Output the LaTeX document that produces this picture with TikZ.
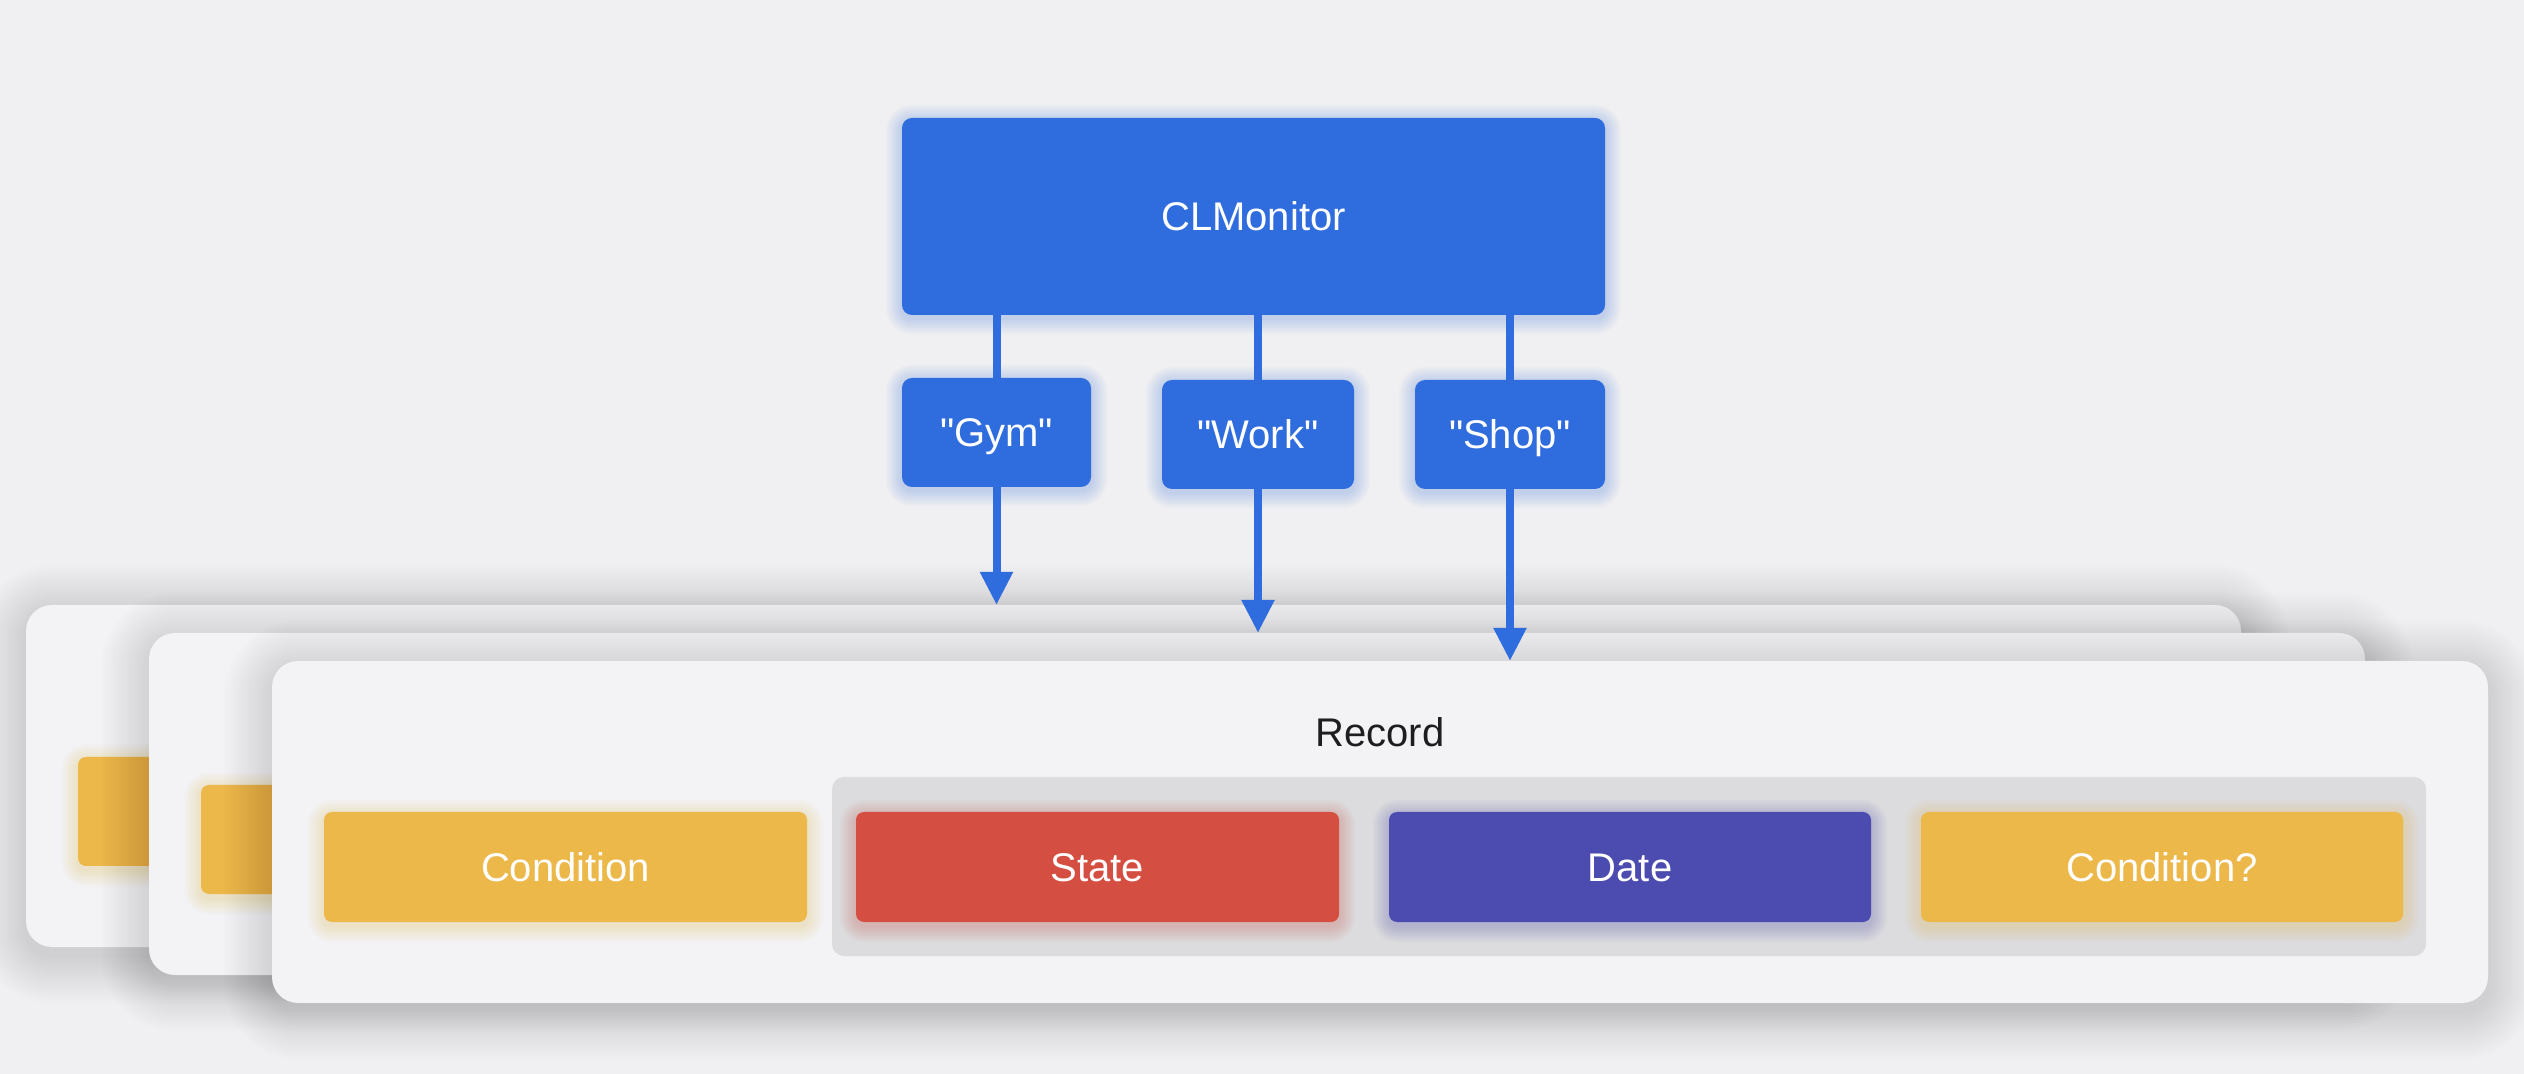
\documentclass[tikz,border=0pt]{standalone}
\usepackage{fontspec}
\defaultfontfeatures[\rmfamily,\sffamily]{}
\setmainfont{Liberation Sans}
\usetikzlibrary{arrows.meta}
\definecolor{bg}{HTML}{F0F0F2}
\definecolor{cardc}{HTML}{F3F3F5}
\definecolor{grpc}{HTML}{DCDCDE}
\definecolor{blu}{HTML}{2F6CDE}
\definecolor{yel}{HTML}{ECB84A}
\definecolor{redc}{HTML}{D44E41}
\definecolor{ind}{HTML}{4B4BB0}
\definecolor{txtd}{HTML}{1E1E20}
\def\glowr{5}
% glow: x1 y1 x2 y2 colour steps step(px) opacity dy(px)
\newcommand\glow[9]{%
  \foreach \k in {1,...,#6}{%
    \pgfmathsetmacro\rr{\glowr+\k*#7*0.5}%
    \fill[#5,opacity=#8,rounded corners=\rr pt] ({#1-\k*#7},{#2-\k*#7+#9}) rectangle ({#3+\k*#7},{#4+\k*#7+#9});
  }}
% box: name x1 y1 x2 y2 style text
\newcommand\bx[7]{%
  \pgfmathsetmacro\bxw{(#4-#2)*0.5}%
  \pgfmathsetmacro\bxh{(#5-#3)*0.5}%
  \node[#6, minimum width=\bxw pt, minimum height=\bxh pt] (#1) at ({(#2+#4)/2},{(#3+#5)/2}) {#7};}
\tikzset{
  base/.style={inner sep=0pt, outer sep=0pt, font=\fontsize{20}{24}\selectfont, text height=14.3pt, text depth=0pt},
  cardbox/.style={base, fill=cardc, rounded corners=13pt},
  grpbox/.style={base, fill=grpc, rounded corners=6pt},
  bluebox/.style={base, fill=blu, text=white, rounded corners=5pt},
  fieldbox/.style={base, fill=#1, text=white, rounded corners=4pt},
  link/.style={draw=blu, line width=4pt},
  arr/.style={link, -{Triangle[length=16.5pt,width=15.5pt]}},
}
\begin{document}
\begin{tikzpicture}[x=0.5pt,y=-0.5pt]
\fill[bg] (0,0) rectangle (2524,1074);
\useasboundingbox (0,0) rectangle (2524,1074);

% back card 1
\def\glowr{13}
\glow{26}{605}{2241}{947}{black}{16}{3}{0.006}{8}
\bx{card1}{26}{605}{2241}{947}{cardbox}{}
\def\glowr{4}
\glow{78}{757}{561}{866}{yel}{8}{2}{0.035}{4}
\bx{ya}{78}{757}{561}{866}{fieldbox=yel}{}

% back card 2
\def\glowr{13}
\glow{149}{633}{2365}{975}{black}{16}{3}{0.006}{8}
\bx{card2}{149}{633}{2365}{975}{cardbox}{}
\def\glowr{4}
\glow{201}{785}{684}{894}{yel}{8}{2}{0.035}{4}
\bx{yb}{201}{785}{684}{894}{fieldbox=yel}{}

% front card
\def\glowr{13}
\glow{272}{661}{2488}{1003}{black}{16}{3}{0.006}{8}
\bx{card3}{272}{661}{2488}{1003}{cardbox}{}
\node[base, text=txtd] (rec) at (1380,732) {Record};
\bx{grp}{832}{777}{2426}{956}{grpbox}{}
\def\glowr{4}
\glow{324}{812}{807}{922}{yel}{8}{2}{0.035}{4}
\glow{856}{812}{1339}{922}{redc}{8}{2}{0.035}{4}
\glow{1389}{812}{1871}{922}{ind}{8}{2}{0.035}{4}
\glow{1921}{812}{2403}{922}{yel}{8}{2}{0.035}{4}
\bx{cond}{324}{812}{807}{922}{fieldbox=yel}{Condition}
\bx{state}{856}{812}{1339}{922}{fieldbox=redc}{State}
\bx{date}{1389}{812}{1871}{922}{fieldbox=ind}{Date}
\bx{condq}{1921}{812}{2403}{922}{fieldbox=yel}{Condition?}

% monitor and regions
\def\glowr{5}
\glow{902}{118}{1605}{315}{blu}{8}{2}{0.03}{3}
\glow{902}{378}{1091}{487}{blu}{8}{2}{0.03}{3}
\glow{1162}{380}{1354}{489}{blu}{8}{2}{0.03}{3}
\glow{1415}{380}{1605}{489}{blu}{8}{2}{0.03}{3}
\bx{clm}{902}{118}{1605}{315}{bluebox}{CLMonitor}
\bx{gym}{902}{378}{1091}{487}{bluebox}{"Gym"}
\bx{work}{1162}{380}{1354}{489}{bluebox}{"Work"}
\bx{shop}{1415}{380}{1605}{489}{bluebox}{"Shop"}

% connectors
\draw[link] (gym.north |- clm.south) -- (gym.north);
\draw[link] (work.north |- clm.south) -- (work.north);
\draw[link] (shop.north |- clm.south) -- (shop.north);
\draw[arr] (gym.south) -- (gym.south |- card1.north);
\draw[arr] (work.south) -- (work.south |- card2.north);
\draw[arr] (shop.south) -- (shop.south |- card3.north);
\end{tikzpicture}
\end{document}
